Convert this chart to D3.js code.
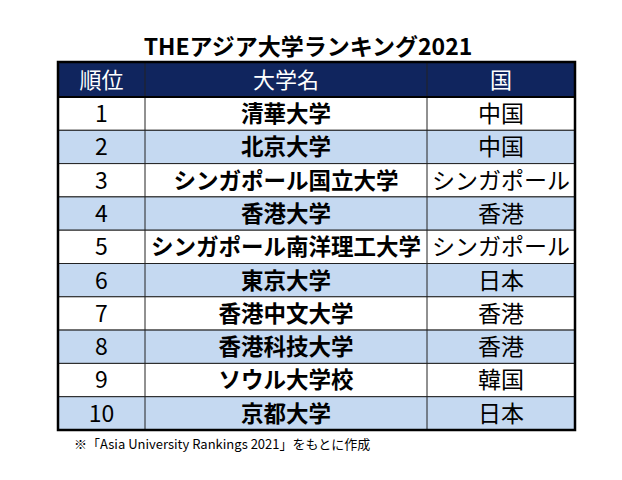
<!DOCTYPE html>
<html><head><meta charset="utf-8">
<script src="https://cdn.jsdelivr.net/npm/d3@7"></script>
<style>body{margin:0;background:#fff}</style>
</head><body>
<script>
var headers = ["順位", "大学名", "国"];
var ranks = [1, 2, 3, 4, 5, 6, 7, 8, 9, 10];
var universities = ["清華大学", "北京大学", "シンガポール国立大学", "香港大学", "シンガポール南洋理工大学",
  "東京大学", "香港中文大学", "香港科技大学", "ソウル大学校", "京都大学"];
var countries = ["中国", "中国", "シンガポール", "香港", "シンガポール", "日本", "香港", "香港", "韓国", "日本"];

var font = "'Noto Sans CJK JP', sans-serif";
var svg = d3.select("body").append("svg").attr("width", 622).attr("height", 480);

svg.append("text").attr("x", 308).attr("y", 55).attr("text-anchor", "middle")
  .style("font-family", font).style("font-weight", "bold").style("font-size", "23px")
  .text("THEアジア大学ランキング2021");

var x0 = 58, x1 = 145, x2 = 427, x3 = 575;
var colX = [x0, x1, x2, x3];
var y = d3.scaleBand().domain(ranks).range([97, 430]);

// header
svg.append("rect").attr("x", x0).attr("y", 62).attr("width", x3 - x0).attr("height", 35).attr("fill", "#10255e");
headers.forEach(function (h, i) {
  svg.append("text").attr("x", (colX[i] + colX[i + 1]) / 2).attr("y", 88).attr("text-anchor", "middle")
    .attr("fill", "#fff").style("font-family", font).style("font-size", "22px").text(h);
});

var rows = svg.selectAll("g.row").data(ranks).join("g").attr("class", "row");
rows.append("rect").attr("x", x0).attr("y", function (d) { return y(d); })
  .attr("width", x3 - x0).attr("height", y.bandwidth())
  .attr("fill", function (d, i) { return i % 2 ? "#c5d9f1" : "#fff"; })
  .attr("stroke", "#222").attr("stroke-width", 1);
rows.append("text").attr("x", (x0 + x1) / 2).attr("y", function (d) { return y(d) + 25; })
  .attr("text-anchor", "middle").style("font-family", font).style("font-size", "23px").text(function (d) { return d; });
rows.append("text").attr("x", (x1 + x2) / 2).attr("y", function (d) { return y(d) + 25; })
  .attr("text-anchor", "middle").style("font-family", font).style("font-weight", "bold").style("font-size", "22.5px")
  .text(function (d, i) { return universities[i]; });
rows.append("text").attr("x", (x2 + x3) / 2).attr("y", function (d) { return y(d) + 25; })
  .attr("text-anchor", "middle").style("font-family", font).style("font-size", "23px")
  .text(function (d, i) { return countries[i]; });

[x1, x2].forEach(function (x) {
  svg.append("line").attr("x1", x).attr("x2", x).attr("y1", 62).attr("y2", 430).attr("stroke", "#222");
});
svg.append("rect").attr("x", x0).attr("y", 62).attr("width", x3 - x0).attr("height", 430 - 62)
  .attr("fill", "none").attr("stroke", "#000").attr("stroke-width", 2.5);
svg.append("line").attr("x1", x0).attr("x2", x3).attr("y1", 97).attr("y2", 97).attr("stroke", "#000").attr("stroke-width", 2);

svg.append("text").attr("x", 74).attr("y", 449).style("font-family", font).style("font-size", "13px")
  .text("※「Asia University Rankings 2021」をもとに作成");
</script>
</body></html>
